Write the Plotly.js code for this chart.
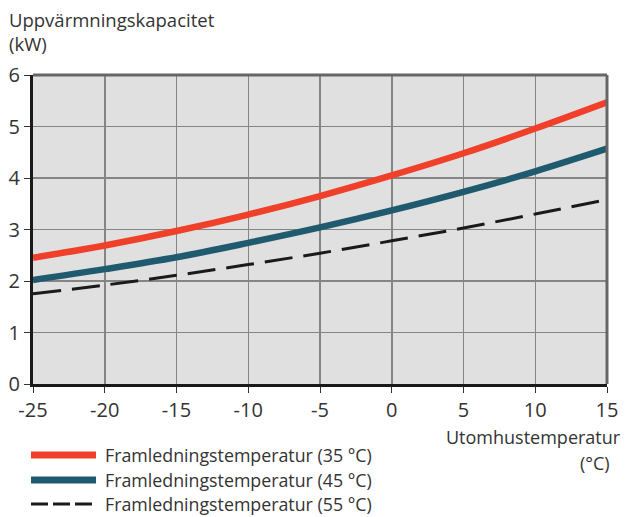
<!DOCTYPE html>
<html>
<head>
<meta charset="utf-8">
<script src="https://cdn.plot.ly/plotly-3.0.1.min.js"></script>
<style>html,body{margin:0;padding:0;background:#fff;}#chart{width:626px;height:517px;}</style>
</head>
<body>
<div id="chart"></div>
<script>
const temps = [-25, -20, -15, -10, -5, 0, 5, 10, 15];
const cap35 = [2.45, 2.69, 2.97, 3.29, 3.65, 4.05, 4.48, 4.96, 5.47];
const cap45 = [2.02, 2.23, 2.46, 2.74, 3.04, 3.37, 3.73, 4.13, 4.57];
const cap55 = [1.75, 1.92, 2.11, 2.32, 2.54, 2.78, 3.03, 3.30, 3.58];
const seriesNames = ["Framledningstemperatur (35 °C)", "Framledningstemperatur (45 °C)", "Framledningstemperatur (55 °C)"];
const xTicks = [-25, -20, -15, -10, -5, 0, 5, 10, 15];
const yTicks = [0, 1, 2, 3, 4, 5, 6];
const yTitle = "Uppvärmningskapacitet<br>(kW)";
const xTitleLines = ["Utomhustemperatur", "(°C)"];

const W = 626, H = 517;
const M = {l: 33, r: 19, t: 75, b: 133};
const PW = W - M.l - M.r, PH = H - M.t - M.b;
const px = x => (x - M.l) / PW;
const py = y => (M.t + PH - y) / PH;

const colors = ["#f0402a", "#1f5a6e", "#1a1a1a"];
const FONT = "Open Sans, DejaVu Sans, sans-serif";
const TXT = "#333";

const traces = [
  {x: temps, y: cap35, name: seriesNames[0], mode: "lines", line: {color: colors[0], width: 6.5, shape: "spline", smoothing: 1}},
  {x: temps, y: cap45, name: seriesNames[1], mode: "lines", line: {color: colors[1], width: 6.5, shape: "spline", smoothing: 1}},
  {x: temps, y: cap55, name: seriesNames[2], mode: "lines", line: {color: colors[2], width: 3, dash: "28px,11px", shape: "spline", smoothing: 1}}
];

const legendY = [455, 480, 504];
const shapes = [
  {type: "line", xref: "paper", yref: "paper", x0: 0, x1: 1, y0: 1, y1: 1, line: {color: "#666", width: 3}, layer: "above"},
  {type: "line", xref: "paper", yref: "paper", x0: 1, x1: 1, y0: 0, y1: 1, line: {color: "#666", width: 3}, layer: "above"}
];
const annotations = [
  {text: yTitle, xref: "paper", yref: "paper", x: px(7), y: py(5), xanchor: "left", yanchor: "top", align: "left", showarrow: false, font: {family: FONT, size: 18.5, color: TXT}},
  {text: xTitleLines[0], xref: "paper", yref: "paper", x: px(623), y: py(437), xanchor: "right", yanchor: "middle", showarrow: false, font: {family: FONT, size: 18, color: TXT}},
  {text: xTitleLines[1], xref: "paper", yref: "paper", x: px(612), y: py(463), xanchor: "right", yanchor: "middle", showarrow: false, font: {family: FONT, size: 18, color: TXT}}
];
seriesNames.forEach((n, i) => {
  shapes.push({type: "line", xref: "paper", yref: "paper", x0: px(31), x1: px(96), y0: py(legendY[i]), y1: py(legendY[i]),
    line: {color: colors[i], width: i < 2 ? 7 : 3, dash: i === 2 ? "17px,5px" : "solid"}});
  annotations.push({text: n, xref: "paper", yref: "paper", x: px(103), y: py(legendY[i]), xanchor: "left", yanchor: "middle", showarrow: false, font: {family: FONT, size: 17.8, color: TXT}});
});

const axisCommon = {
  showgrid: true, gridcolor: "#858585", gridwidth: 1.5, zeroline: false,
  showline: true, linecolor: "#1a1a1a", linewidth: 3,
  ticks: "outside", ticklen: 6, tickcolor: "#333", tickwidth: 1,
  tickfont: {family: FONT, size: 20, color: TXT}, fixedrange: true
};

const layout = {
  width: W, height: H,
  margin: M,
  paper_bgcolor: "#fff",
  plot_bgcolor: "#e0e0e0",
  showlegend: false,
  xaxis: Object.assign({}, axisCommon, {range: [-25, 15], tickvals: xTicks, ticktext: xTicks.map(String)}),
  yaxis: Object.assign({}, axisCommon, {range: [0, 6], tickvals: yTicks, ticktext: yTicks.map(String), ticklabelstandoff: 0}),
  shapes: shapes,
  annotations: annotations
};

Plotly.newPlot("chart", traces, layout, {staticPlot: true, displayModeBar: false});
</script>
</body>
</html>
